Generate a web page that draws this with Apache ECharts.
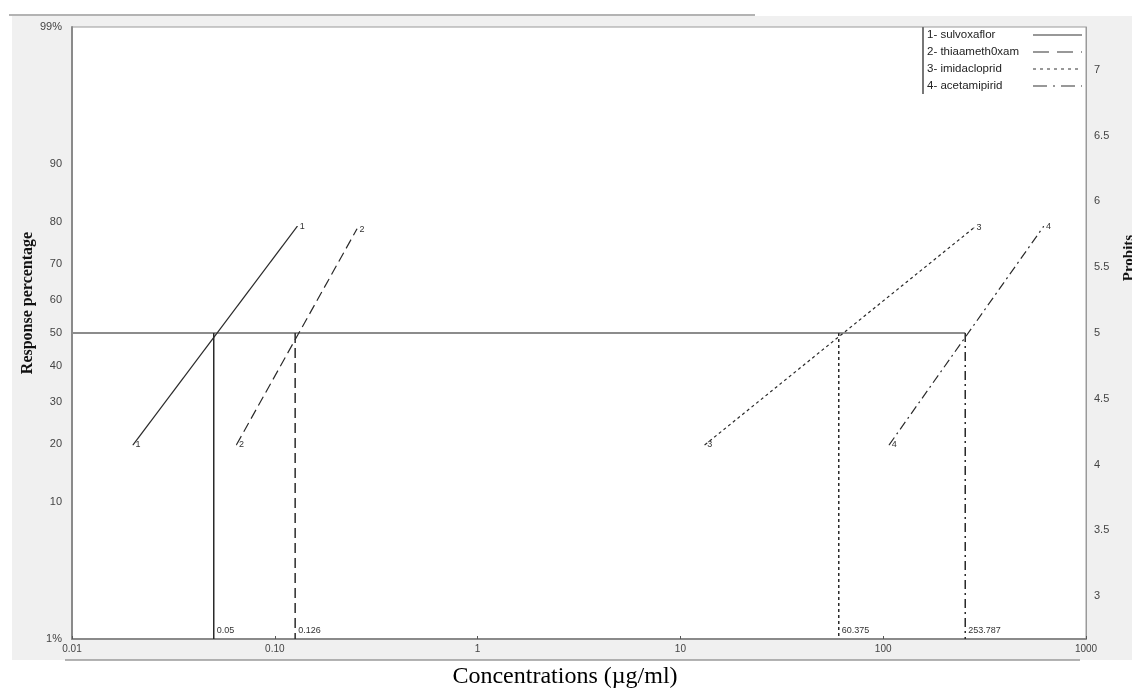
<!DOCTYPE html>
<html>
<head>
<meta charset="utf-8">
<script src="https://cdn.jsdelivr.net/npm/echarts@6/dist/echarts.min.js"></script>
<style>
  html, body { margin: 0; padding: 0; background: #ffffff; }
  #panel { position: absolute; left: 12px; top: 16px; width: 1120px; height: 644px; background: #f0f0f0; }
  #chart { position: absolute; left: 0; top: 0; width: 1132px; height: 695px; }
</style>
</head>
<body>
<div id="panel"></div>
<div id="chart"></div>
<script>
// ---- data ----
const xTicks = [0.01, 0.1, 1, 10, 100, 1000];
const xTickLabels = ['0.01', '0.10', '1', '10', '100', '1000'];
const pctLabels = ['1%', '10', '20', '30', '40', '50', '60', '70', '80', '90', '99%'];
const pctProbits = [2.674, 3.718, 4.158, 4.476, 4.747, 5.0, 5.253, 5.524, 5.842, 6.282, 7.326];
const probitTicks = [3, 3.5, 4, 4.5, 5, 5.5, 6, 6.5, 7];
const compoundIds = ['1', '2', '3', '4'];
const compounds = ['sulvoxaflor', 'thiaameth0xam', 'imidacloprid', 'acetamipirid'];
const lc50 = [0.05, 0.126, 60.375, 253.787];
const lc50Labels = ['0.05', '0.126', '60.375', '253.787'];
const concLow = [0.020, 0.0647, 13.2, 107];
const concHigh = [0.129, 0.254, 280, 618];
const probitLow = [4.15, 4.15, 4.15, 4.15];
const probitHigh = [5.81, 5.79, 5.80, 5.81];
const probit50 = 5.0;

const yMin = 2.674, yMax = 7.326;
const dashes = ['solid', [10, 5], [3, 3], [9, 4, 2, 4]];
const legendDashes = [null, [16, 8], [3, 4], [14, 6, 2, 6]];
const lineColor = '#2a2a2a';

const chart = echarts.init(document.getElementById('chart'), null, { renderer: 'canvas' });

const series = [];
// 50% horizontal reference line
series.push({
  type: 'line', xAxisIndex: 0, yAxisIndex: 1, symbol: 'none', silent: true,
  lineStyle: { color: '#8c8c8c', width: 2 },
  data: [[xTicks[0], probit50], [lc50[3], probit50]],
  z: 3
});
compounds.forEach((name, i) => {
  // regression line
  series.push({
    type: 'line', name: name, xAxisIndex: 0, yAxisIndex: 1,
    symbol: 'circle', symbolSize: 1, silent: true,
    itemStyle: { color: lineColor },
    lineStyle: { color: lineColor, width: 1.2, type: dashes[i] },
    label: {
      show: true, position: 'right', distance: 2,
      formatter: () => compoundIds[i],
      fontFamily: 'Liberation Sans', fontSize: 9, color: '#333'
    },
    data: [[concLow[i], probitLow[i]], [concHigh[i], probitHigh[i]]],
    z: 4
  });
  // vertical LC50 drop line
  series.push({
    type: 'line', xAxisIndex: 0, yAxisIndex: 1,
    symbol: 'none', silent: true,
    lineStyle: { color: lineColor, width: 1.5, type: dashes[i] },
    data: [
      { value: [lc50[i], probit50] },
      { value: [lc50[i], yMin], symbol: 'circle', symbolSize: 0.1,
        label: { show: true, position: 'right', distance: 3, offset: [0, -8],
                 formatter: () => lc50Labels[i],
                 fontFamily: 'Liberation Sans', fontSize: 9, color: '#333' } }
    ],
    z: 4
  });
});

// legend drawn as graphic
const legendGraphics = [];
legendGraphics.push({ type: 'line', shape: { x1: 923, y1: 27, x2: 923, y2: 94 },
  style: { stroke: '#777', lineWidth: 2 } });
compounds.forEach((name, i) => {
  const y = 35 + i * 17;
  legendGraphics.push({ type: 'text', x: 927, y: y,
    style: { text: compoundIds[i] + '- ' + name, fill: '#222', font: '11.5px "Liberation Sans"',
             verticalAlign: 'middle', textAlign: 'left' } });
  legendGraphics.push({ type: 'line', shape: { x1: 1033, y1: y, x2: 1082, y2: y },
    style: { stroke: '#333', lineWidth: 1.2, lineDash: legendDashes[i] } });
});

const option = {
  animation: false,
  backgroundColor: 'transparent',
  grid: { left: 72, right: 46, top: 27, bottom: 56, show: true, containLabel: false,
          outerBoundsMode: 'none',
          backgroundColor: '#ffffff', borderColor: '#9a9a9a', borderWidth: 1 },
  xAxis: [{
    type: 'log', logBase: 10, min: 0.01, max: 1000,
    axisLine: { show: true, lineStyle: { color: '#8a8a8a', width: 2 } },
    axisTick: { show: true, inside: true, length: 3, customValues: xTicks,
                lineStyle: { color: '#555' } },
    axisLabel: {
      customValues: xTicks, margin: 5,
      formatter: v => { const k = xTicks.findIndex(t => Math.abs(Math.log10(t) - Math.log10(v)) < 1e-6); return k >= 0 ? xTickLabels[k] : ''; },
      fontFamily: 'Liberation Sans', fontSize: 10, color: '#444'
    },
    splitLine: { show: false }
  }],
  yAxis: [{
    type: 'value', position: 'left', min: yMin, max: yMax,
    axisLine: { show: true, lineStyle: { color: '#8a8a8a', width: 2 } },
    axisTick: { show: false },
    axisLabel: {
      customValues: pctProbits, margin: 10,
      formatter: v => { const k = pctProbits.findIndex(t => Math.abs(t - v) < 1e-6); return k >= 0 ? pctLabels[k] : ''; },
      fontFamily: 'Liberation Sans', fontSize: 11, color: '#444'
    },
    splitLine: { show: false },
    name: 'Response percentage', nameLocation: 'middle', nameGap: 36, nameRotate: 90,
    nameMoveOverlap: false,
    nameTextStyle: { fontFamily: 'Liberation Serif', fontWeight: 'bold', fontSize: 16, color: '#111',
                     padding: [0, 0, 0, 60] }
  }, {
    type: 'value', position: 'right', min: yMin, max: yMax,
    axisLine: { show: true, lineStyle: { color: '#9a9a9a', width: 1 } },
    axisTick: { show: false },
    axisLabel: {
      customValues: probitTicks, margin: 8,
      formatter: v => String(v),
      fontFamily: 'Liberation Sans', fontSize: 11, color: '#444'
    },
    splitLine: { show: false },
    name: 'Probits', nameLocation: 'middle', nameGap: 36, nameRotate: 90,
    nameTextStyle: { fontFamily: 'Liberation Serif', fontWeight: 'bold', fontSize: 15, color: '#111',
                     padding: [0, 0, 0, 150] }
  }],
  graphic: [
    { type: 'line', shape: { x1: 9, y1: 15, x2: 755, y2: 15 }, style: { stroke: '#9a9a9a', lineWidth: 1.5 } },
    { type: 'line', shape: { x1: 65, y1: 660, x2: 1080, y2: 660 }, style: { stroke: '#9a9a9a', lineWidth: 1.5 } },
    { type: 'text', x: 565, y: 677,
      style: { text: 'Concentrations (µg/ml)', font: '24px "Liberation Serif"', fill: '#000',
               textAlign: 'center', verticalAlign: 'middle' } },
    ...legendGraphics
  ],
  series: series
};
chart.setOption(option);
</script>
</body>
</html>
